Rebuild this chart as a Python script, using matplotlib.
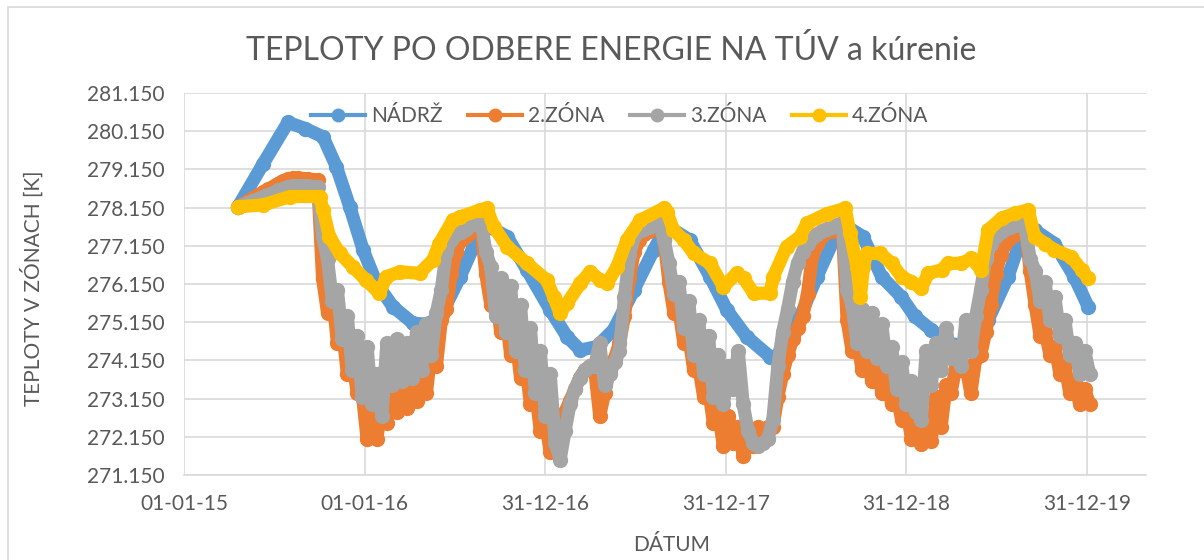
import numpy as np
import pandas as pd
import matplotlib
matplotlib.use('Agg')
import matplotlib.pyplot as plt
import matplotlib.dates as mdates
from matplotlib.lines import Line2D
from matplotlib.patches import Rectangle

plt.rcParams['font.family'] = ['Lato', 'DejaVu Sans']

start = pd.Timestamp('2015-01-01')

# NADRZ - days since 01-01-15 and temperature [K]
nadrz_days = [109, 160, 210, 245, 281, 308, 335, 362, 389, 422, 463, 490,
              518, 558, 585, 605, 617, 653, 693, 740, 774, 801, 834, 868,
              909, 949, 970, 985, 1022, 1063, 1097, 1137, 1184, 1197, 1245,
              1279, 1319, 1340, 1372, 1410, 1449, 1477, 1510, 1544, 1570,
              1625, 1665, 1693, 1719, 1759, 1799, 1827]
nadrz = [278.17, 279.30, 280.38, 280.22, 280.00, 279.22, 278.17, 277.04,
         276.17, 275.56, 275.12, 275.10, 275.29, 276.34, 277.13, 277.55,
         277.65, 277.39, 276.52, 275.47, 274.77, 274.42, 274.51, 274.95,
         275.99, 277.04, 277.55, 277.60, 277.30, 276.34, 275.47, 274.77,
         274.25, 274.25, 275.29, 276.34, 277.48, 277.65, 277.39, 276.34,
         275.82, 275.30, 274.95, 274.60, 274.55, 275.21, 276.34, 277.39,
         277.56, 277.21, 276.34, 275.56]

# 4.ZONA
zona4_days = [109, 160, 214, 274, 281, 294, 315, 341, 368, 395, 409, 436,
              476, 503, 516, 543, 558, 599, 612, 626, 653, 693, 733, 747,
              760, 774, 801, 821, 841, 855, 875, 895, 922, 969, 976, 989,
              1010, 1030, 1063, 1090, 1117, 1131, 1151, 1184, 1191, 1218,
              1245, 1259, 1299, 1336, 1346, 1360, 1367, 1373, 1380, 1407,
              1430, 1450, 1470, 1490, 1504, 1531, 1544, 1571, 1591, 1611,
              1625, 1652, 1679, 1706, 1719, 1740, 1759, 1793, 1814, 1827]
zona4 = [278.17, 278.22, 278.44, 278.44, 278.09, 277.39, 276.95, 276.60,
         276.25, 275.91, 276.34, 276.47, 276.43, 276.78, 277.21, 277.82,
         277.91, 278.09, 278.13, 277.65, 277.13, 276.69, 276.25, 275.82,
         275.38, 275.64, 276.17, 276.47, 276.25, 276.17, 276.60, 277.30,
         277.82, 278.13, 278.04, 277.56, 277.30, 276.95, 276.69, 276.08,
         276.43, 276.30, 275.91, 275.91, 276.34, 277.13, 277.39, 277.74,
         277.99, 278.13, 277.48, 276.60, 275.82, 276.60, 276.95, 276.95,
         276.69, 276.34, 276.21, 276.04, 276.43, 276.52, 276.69, 276.69,
         276.82, 276.52, 277.56, 277.87, 278.00, 278.09, 277.39, 277.21,
         277.04, 276.86, 276.52, 276.30]

# 2.ZONA and 3.ZONA - every 10 days from day 110 to day 1830
zone_days = np.arange(110, 1831, 10)
zona2 = [
    278.17, 278.25, 278.33, 278.40, 278.48, 278.55, 278.63, 278.70, 278.78, 278.85,
    278.90, 278.92, 278.92, 278.91, 278.90, 278.88, 278.87, 276.30, 275.40, 275.90,
    274.60, 275.00, 273.80, 274.20, 273.30, 273.30, 272.10, 272.80, 272.10, 273.20,
    272.50, 273.40, 272.80, 273.60, 272.90, 273.70, 273.10, 274.00, 273.30, 274.50,
    274.00, 275.20, 275.50, 276.40, 277.00, 277.30, 277.40, 277.50, 277.60, 277.65,
    276.40, 275.60, 275.90, 274.90, 275.40, 274.30, 274.80, 273.70, 274.10, 273.00,
    273.40, 272.30, 272.60, 271.75, 272.00, 272.40, 272.80, 273.10, 273.40, 273.70,
    273.90, 274.00, 273.90, 272.70, 273.30, 273.90, 274.20, 274.60, 275.30, 276.30,
    277.00, 277.30, 277.45, 277.55, 277.60, 277.65, 277.30, 276.20, 275.40, 275.50,
    274.60, 274.80, 273.90, 274.00, 273.20, 273.40, 272.50, 272.80, 271.90, 272.70,
    272.00, 272.40, 271.65, 272.00, 271.90, 272.40, 272.20, 272.40, 272.40, 273.20,
    273.80, 274.30, 274.70, 275.00, 275.30, 275.90, 276.90, 277.20, 277.40, 277.50,
    277.55, 277.60, 277.70, 275.20, 274.40, 274.80, 273.90, 274.40, 273.60, 274.10,
    273.30, 273.70, 273.00, 273.30, 272.60, 272.90, 272.10, 272.50, 271.95, 272.60,
    272.05, 273.20, 272.40, 273.50, 273.30, 274.00, 273.90, 274.00, 273.30, 274.20,
    274.30, 274.90, 275.60, 276.40, 276.90, 277.20, 277.35, 277.45, 277.55, 277.60,
    276.50, 275.60, 274.80, 274.90, 274.30, 274.50, 273.80, 274.00, 273.30, 273.60,
    273.00, 273.40, 273.00]
zona3 = [
    278.17, 278.22, 278.28, 278.33, 278.38, 278.44, 278.49, 278.54, 278.60, 278.65,
    278.70, 278.72, 278.72, 278.72, 278.71, 278.70, 278.68, 277.40, 276.80, 275.70,
    276.00, 274.70, 275.30, 273.90, 274.80, 273.20, 274.50, 273.00, 273.80, 272.70,
    274.60, 273.50, 274.70, 273.60, 274.60, 273.70, 274.90, 273.90, 275.10, 274.30,
    275.40, 276.00, 277.00, 277.30, 277.45, 277.50, 277.60, 277.70, 277.75, 277.80,
    277.00, 276.60, 275.30, 276.30, 274.90, 276.10, 274.40, 275.60, 273.90, 275.00,
    273.30, 274.40, 272.70, 273.80, 272.00, 271.55, 272.30, 273.00, 273.40, 273.70,
    273.90, 274.00, 274.00, 274.60, 273.50, 273.80, 274.10, 274.40, 275.80, 276.90,
    277.40, 277.55, 277.60, 277.65, 277.70, 277.75, 277.30, 276.70, 275.90, 276.20,
    275.00, 275.70, 274.30, 275.20, 273.80, 274.80, 273.20, 274.30, 273.00, 274.00,
    273.40, 274.40, 273.00, 272.30, 272.00, 271.90, 272.00, 272.10, 272.60, 274.00,
    274.90, 275.50, 276.20, 276.70, 277.00, 277.20, 277.35, 277.45, 277.55, 277.60,
    277.65, 277.70, 277.75, 276.00, 275.60, 274.60, 275.50, 274.40, 275.40, 274.20,
    275.10, 274.00, 274.50, 273.40, 274.10, 273.00, 273.60, 272.80, 272.60, 274.40,
    273.50, 274.60, 273.90, 275.00, 274.20, 274.50, 274.00, 275.20, 274.40, 275.30,
    276.00, 276.80, 277.20, 277.40, 277.50, 277.60, 277.65, 277.70, 277.75, 277.60,
    276.80, 276.50, 275.70, 276.20, 275.20, 275.80, 274.80, 275.20, 274.30, 274.60,
    273.80, 274.40, 273.80]

tick_days = [0, 365, 730, 1095, 1460, 1825]
y_ticks = [271.15, 272.15, 273.15, 274.15, 275.15, 276.15, 277.15, 278.15,
           279.15, 280.15, 281.15]

series = [('NÁDRŽ', nadrz_days, nadrz, '#5B9BD5'),
          ('2.ZÓNA', zone_days, zona2, '#ED7D31'),
          ('3.ZÓNA', zone_days, zona3, '#A5A5A5'),
          ('4.ZÓNA', zona4_days, zona4, '#FFC000')]


def to_dates(days):
    return start + pd.to_timedelta(np.asarray(days), unit='D')


fig = plt.figure(figsize=(12.04, 5.6), dpi=100)
ax = fig.add_axes([184 / 1204, 1 - 475 / 560, (1146 - 184) / 1204, (475 - 93) / 560])

for name, d, v, c in series:
    ax.plot(to_dates(d), v, color=c, lw=9.5, marker='o', ms=10, mec=c,
            solid_joinstyle='round', solid_capstyle='round')

ax.set_ylim(271.15, 281.15)
ax.set_yticks(y_ticks)
ax.yaxis.set_major_formatter(matplotlib.ticker.FormatStrFormatter('%.3f'))
ax.set_xlim(to_dates([0])[0], to_dates([1944])[0])
ax.set_xticks(to_dates(tick_days))
ax.xaxis.set_major_formatter(mdates.DateFormatter('%d-%m-%y'))

ax.grid(True, color='#D9D9D9', lw=1.2)
ax.set_axisbelow(True)
for s in ['top', 'right', 'left']:
    ax.spines[s].set_visible(False)
ax.spines['bottom'].set_color('#D9D9D9')
ax.spines['bottom'].set_linewidth(1.2)
ax.tick_params(length=0, labelsize=15, colors='#595959')
ax.tick_params(axis='y', pad=14)
ax.tick_params(axis='x', pad=14)

handles = [Line2D([], [], color=c, lw=3, marker='o', ms=9) for _, _, _, c in series]
ax.legend(handles, [s[0] for s in series], ncol=4, loc='center',
          bbox_to_anchor=(0.453, 0.94), frameon=False, fontsize=15,
          labelcolor='#595959', handlelength=2.6, handletextpad=0.3,
          columnspacing=1.2)

fig.text(611 / 1204, 1 - 50 / 560, 'TEPLOTY PO ODBERE ENERGIE NA TÚV a kúrenie',
         ha='center', va='center', fontsize=23, color='#595959')
fig.text(32 / 1204, 1 - 288 / 560, 'TEPLOTY V ZÓNACH [K]', rotation=90,
         ha='center', va='center', fontsize=15, color='#595959')
fig.text(672 / 1204, 1 - 545 / 560, 'DÁTUM', ha='center', va='center',
         fontsize=15, color='#595959')

# chart border, cut off at right and bottom like the reference
fig.patches.append(Rectangle((8 / 1204, -0.05), 1.2, 1.05 - 7 / 560,
                             transform=fig.transFigure, fill=False,
                             ec='#D9D9D9', lw=1.2))

fig.savefig('out.png', dpi=100)
